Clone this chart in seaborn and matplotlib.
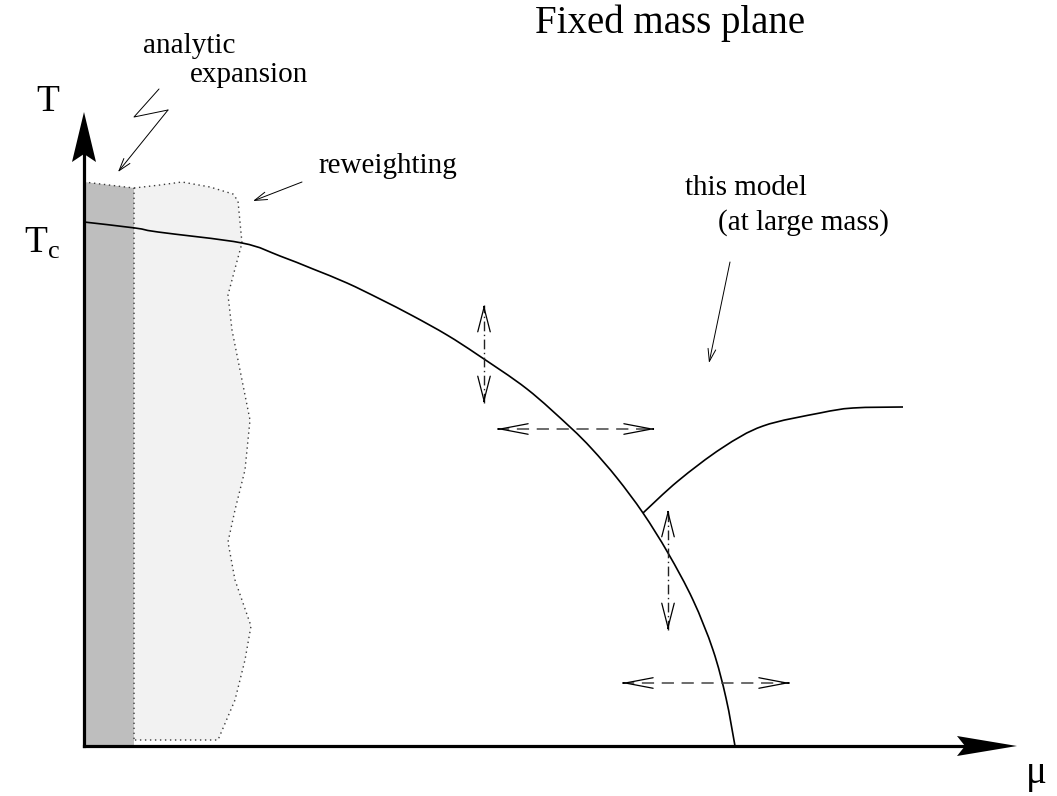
import numpy as np
import matplotlib
matplotlib.use("Agg")
import matplotlib.pyplot as plt
from matplotlib.path import Path
from matplotlib.patches import PathPatch
import seaborn as sns

# Phase boundary T(mu) in the fixed-mass plane (drawing units)
boundary_mu = [0, 51, 74, 158, 196, 229, 263, 296, 329, 363, 394, 443,
               486, 508, 533, 559, 584, 609, 629, 642, 651]
boundary_T = [524, 518, 514, 503, 490, 477, 463, 447, 430, 411, 391, 357,
              319, 297, 268, 233, 193, 146, 96, 48, 0]

# Line branching off the boundary ("this model")
cross_mu = [559, 594, 638, 679, 736, 769, 819]
cross_T = [233, 265, 298, 320, 333, 338, 339]

# Strip covered by the analytic expansion
analytic_mu = [0, 50, 50, 0]
analytic_T = [564, 558, 0, 0]

# Region reachable by reweighting (wavy outer edge)
rew_mu = [50, 76, 98, 126, 149, 154, 158, 152, 144, 148, 156, 166, 161, 151,
          144, 151, 167, 161, 151, 134, 50]
rew_T = [558, 561, 564, 559, 552, 545, 503, 481, 451, 416, 376, 326, 276, 236,
         204, 166, 120, 86, 46, 6, 6]

# Double arrows: vertical (mu, T_top, T_bottom), horizontal (T, mu_left, mu_right)
v_arrows = [(400, 441, 343), (584, 236, 116)]
h_arrows = [(317, 413, 571), (63, 538, 706)]

sns.set_theme(style="white")
plt.rcParams["font.family"] = ["Liberation Serif", "DejaVu Serif"]
plt.rcParams["text.color"] = "black"


def spline_path(xs, ys):
    """Cubic Bezier path passing smoothly through the given points."""
    p = np.column_stack([xs, ys]).astype(float)
    verts, codes = [p[0]], [Path.MOVETO]
    n = len(p)
    for i in range(n - 1):
        p0 = p[i - 1] if i > 0 else p[i]
        p1, p2 = p[i], p[i + 1]
        p3 = p[i + 2] if i + 2 < n else p[i + 1]
        verts += [p1 + (p2 - p0) / 6.0, p2 - (p3 - p1) / 6.0, p2]
        codes += [Path.CURVE4] * 3
    return Path(verts, codes)


fig = plt.figure(figsize=(10.57, 7.96), dpi=100)
ax = fig.add_axes([0, 0, 1, 1])
ax.set_xlim(-84, 973)
ax.set_ylim(-50, 746)
ax.set_axis_off()

dot_style = (0, (1, 2.6))

# shaded regions with dotted outlines
ax.fill(rew_mu, rew_T, color="#f2f2f2", lw=0, zorder=1)
ax.fill(analytic_mu, analytic_T, color="#bebebe", lw=0, zorder=1)
sns.lineplot(x=rew_mu, y=rew_T, sort=False, estimator=None, color="#3a3a3a",
             lw=1.0, linestyle=dot_style, ax=ax, zorder=2)
sns.lineplot(x=analytic_mu[:3], y=[analytic_T[0], analytic_T[1], 6], sort=False,
             estimator=None, color="#3a3a3a", lw=1.0, linestyle=dot_style,
             ax=ax, zorder=2)

# boundary curves
for xs, ys in [(boundary_mu, boundary_T), (cross_mu, cross_T)]:
    ax.add_patch(PathPatch(spline_path(xs, ys), facecolor="none",
                           edgecolor="black", lw=1.2, zorder=3))

# coordinate axes with filled heads
ax.plot([0, 0], [0, 592], color="black", lw=2.3, solid_capstyle="projecting", zorder=4)
ax.plot([0, 881], [0, 0], color="black", lw=2.3, solid_capstyle="projecting", zorder=4)
ax.fill([0, 12, 0, -12], [634, 584, 592, 584], color="black", lw=0, zorder=4)
ax.fill([933, 873, 881, 873], [0, 10, 0, -10], color="black", lw=0, zorder=4)


def open_head(tip, base, length=1.75, width=0.45):
    ax.annotate("", xy=tip, xytext=base,
                arrowprops=dict(arrowstyle=f"->,head_length={length},head_width={width}",
                                color="black", lw=0.9, shrinkA=0, shrinkB=0,
                                mutation_scale=10), zorder=5)


for m, t_top, t_bot in v_arrows:
    ax.plot([m, m], [t_bot, t_top], color="#222222", lw=1.0,
            linestyle=(0, (7, 2.5, 1, 2.5)), zorder=5)
    open_head((m, t_top), (m, t_top - 2))
    open_head((m, t_bot), (m, t_bot + 2))

for t, m_l, m_r in h_arrows:
    ax.plot([m_l, m_r], [t, t], color="#444444", lw=1.1,
            linestyle=(0, (8, 5)), zorder=5)
    open_head((m_l, t), (m_l + 2, t), length=2.0, width=0.38)
    open_head((m_r, t), (m_r - 2, t), length=2.0, width=0.38)

# thin pointer arrows
thin = dict(arrowstyle="->,head_length=0.9,head_width=0.28", color="black",
            lw=0.7, shrinkA=0, shrinkB=0, mutation_scale=10)
ax.plot([75, 50, 84], [657, 629, 636], color="black", lw=0.7)
ax.annotate("", xy=(34, 574), xytext=(84, 636), arrowprops=thin)
ax.annotate("", xy=(169, 545), xytext=(218, 564), arrowprops=thin)
ax.annotate("", xy=(625, 383), xytext=(646, 484), arrowprops=thin)

# labels
ax.text(451, 713, "Fixed mass plane", fontsize=28, va="baseline", ha="left")
ax.text(59, 693, "analytic", fontsize=21, va="baseline", ha="left")
ax.text(106, 664, "expansion", fontsize=21, va="baseline", ha="left")
ax.text(234, 573, "reweighting", fontsize=21, va="baseline", ha="left")
ax.text(601, 551, "this model", fontsize=21, va="baseline", ha="left")
ax.text(634, 516, "(at large mass)", fontsize=21, va="baseline", ha="left")
ax.text(-48, 635, "T", fontsize=27, va="baseline", ha="left")
ax.text(-60, 493, r"T$_{\mathregular{c}}$", fontsize=27, va="baseline", ha="left")
ax.text(942, -37, "μ", fontsize=28, va="baseline", ha="left")

fig.savefig("out.png", dpi=100, facecolor="white")
